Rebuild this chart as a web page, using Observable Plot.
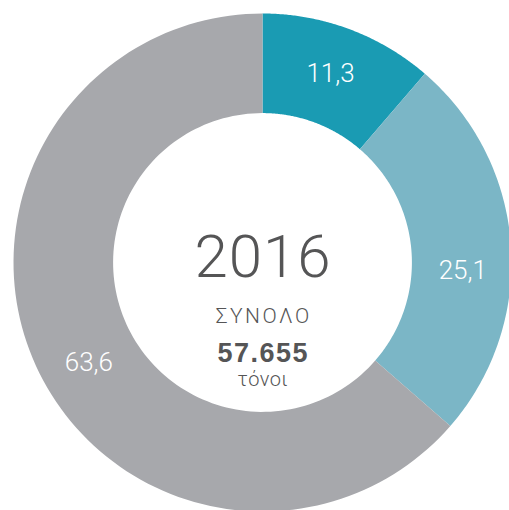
<!DOCTYPE html>
<html>
<head>
<meta charset="utf-8">
<script src="https://cdn.jsdelivr.net/npm/d3@7"></script>
<script src="https://cdn.jsdelivr.net/npm/@observablehq/plot@0.6"></script>
<style>
  html, body { margin: 0; padding: 0; background: #fff; }
  svg { display: block; }
</style>
</head>
<body>
<div id="chart"></div>
<script>
// Data
const categories = ["A", "B", "C"];
const values = [11.3, 25.1, 63.6];
const valueLabels = ["11,3", "25,1", "63,6"];
const centerLines = ["2016", "ΣΥΝΟΛΟ", "57.655", "τόνοι"];

// Style / layout (kept apart from data)
const colors = ["#1a9bb3", "#7bb6c6", "#a7a8ac"];
const labelAngleNudge = [-0.5, 6.5, -5.5]; // degrees
const centerSpacing = [1, 2.5, 1.5, 0.5];  // letter-spacing px per center line
const rOuter = 1, rInner = 0.6, rLabel = 0.805;

// Geometry derived from data (unit circle coordinates, clockwise from top)
const total = d3.sum(values);
let acc = 0;
const polys = [];
const labels = [];
values.forEach((v, i) => {
  const a0 = acc / total * 2 * Math.PI;
  acc += v;
  const a1 = acc / total * 2 * Math.PI;
  const n = 120;
  for (let k = 0; k <= n; k++) {
    const a = a0 + (a1 - a0) * k / n;
    polys.push({cat: categories[i], x: rOuter * Math.sin(a), y: rOuter * Math.cos(a)});
  }
  for (let k = n; k >= 0; k--) {
    const a = a0 + (a1 - a0) * k / n;
    polys.push({cat: categories[i], x: rInner * Math.sin(a), y: rInner * Math.cos(a)});
  }
  const am = (a0 + a1) / 2 + labelAngleNudge[i] * Math.PI / 180;
  labels.push({text: valueLabels[i], x: rLabel * Math.sin(am), y: rLabel * Math.cos(am)});
});

const font = "Roboto, 'Liberation Sans', sans-serif";
const W = 509, H = 510, R = 249, cx = 262, cy = 262;
const ink = "#555556";

const chart = Plot.plot({
  width: W,
  height: H,
  margin: 0,
  style: {fontFamily: font, background: "#fff"},
  x: {domain: [-cx / R, (W - cx) / R], axis: null},
  y: {domain: [(cy - H) / R, cy / R], axis: null},
  color: {domain: categories, range: colors},
  marks: [
    Plot.line(polys, {x: "x", y: "y", z: "cat", fill: "cat", stroke: null, curve: "linear", clip: true}),
    Plot.text(labels, {x: "x", y: "y", text: "text", fill: "#fff", fontSize: 26, fontWeight: 300}),
    Plot.text([centerLines[0]], {x: () => 0, y: () => 0, text: d => d, dy: -5, fill: ink, fontSize: 60, fontWeight: 300}),
    Plot.text([centerLines[1]], {x: () => 0, y: () => 0, text: d => d, dy: 53.5, fill: ink, fontSize: 21, fontWeight: 300}),
    Plot.text([centerLines[2]], {x: () => 0, y: () => 0, text: d => d, dy: 91, fill: ink, fontSize: 27, fontWeight: 700, fontFamily: "'Liberation Sans', Arial, sans-serif"}),
    Plot.text([centerLines[3]], {x: () => 0, y: () => 0, text: d => d, dy: 117, fill: ink, fontSize: 20, fontWeight: 300})
  ]
});
// letter-spacing for centre lines
d3.select(chart).selectAll("text").each(function () {
  const idx = centerLines.indexOf(this.textContent);
  if (idx >= 0) {
    const ls = centerSpacing[idx];
    this.setAttribute("letter-spacing", ls);
    this.setAttribute("dx", ls / 2);
  }
});
document.getElementById("chart").appendChild(chart);
</script>
</body>
</html>
